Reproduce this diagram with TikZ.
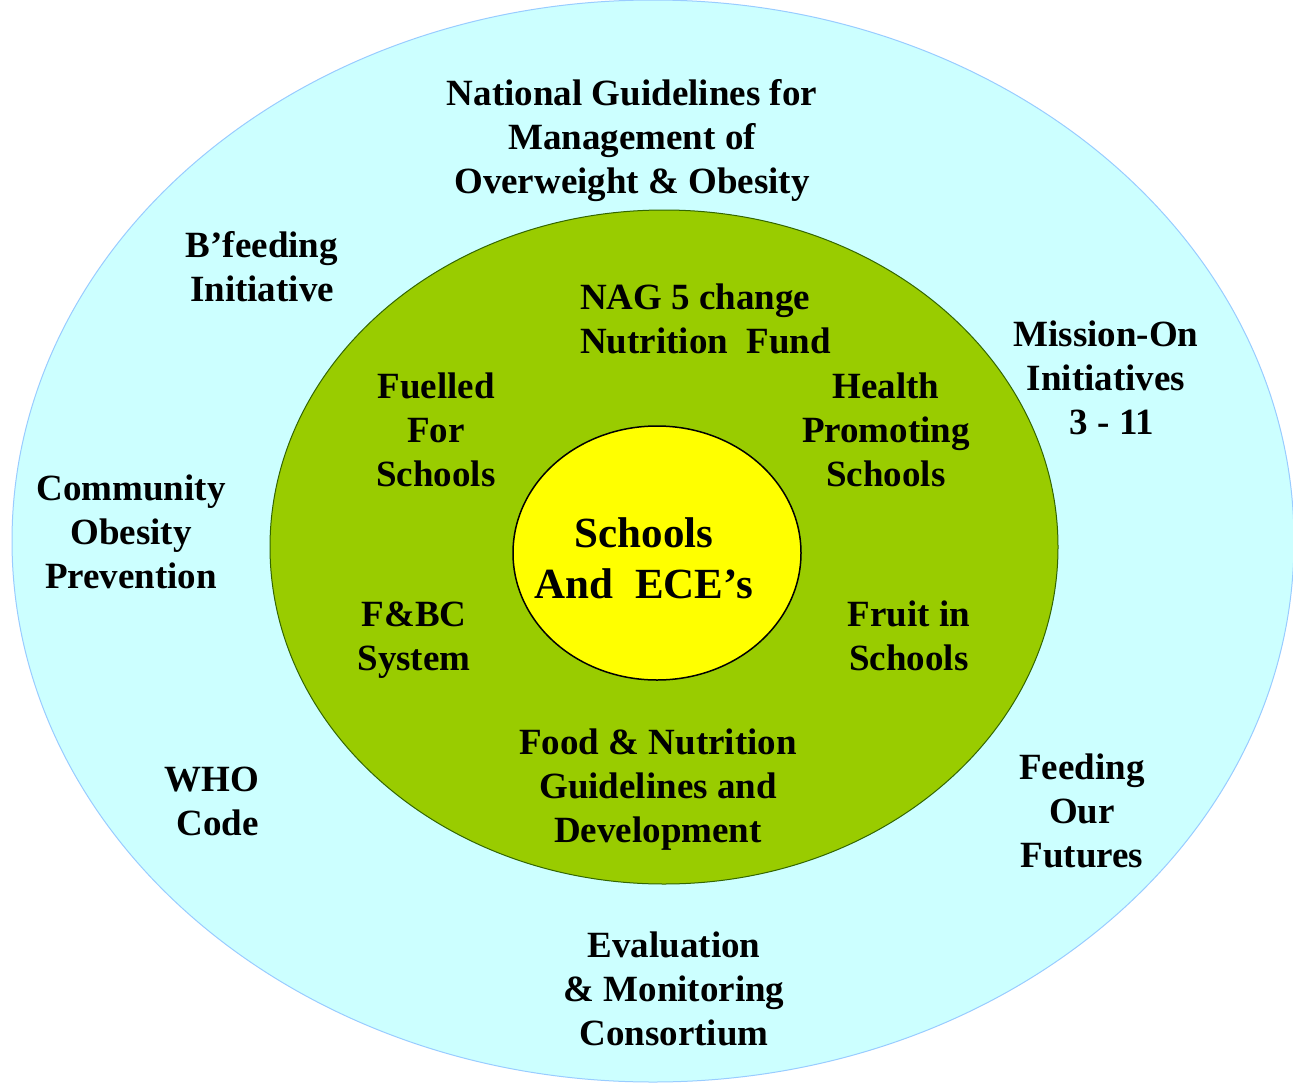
\documentclass[tikz,border=0pt]{standalone}
\usepackage{fontspec}
\setmainfont{Liberation Serif}
\definecolor{outerfill}{HTML}{CCFFFF}
\definecolor{outerline}{HTML}{99CCFF}
\definecolor{midfill}{HTML}{99CC00}
\definecolor{midline}{HTML}{336600}
\definecolor{corefill}{HTML}{FFFF00}
\begin{document}
\begin{tikzpicture}[x=1pt,y=-1pt,
  lbl/.style={align=center,inner sep=0pt,font=\fontsize{37}{44}\selectfont\bfseries},
  lbll/.style={align=left,inner sep=0pt,font=\fontsize{37}{44}\selectfont\bfseries},
  lblr/.style={align=right,inner sep=0pt,font=\fontsize{37}{44}\selectfont\bfseries},
  corelbl/.style={align=center,inner sep=0pt,font=\fontsize{43}{51}\selectfont\bfseries}]
\useasboundingbox (0,0) rectangle (1293,1084);
\fill[white] (0,0) rectangle (1293,1084);
\draw[fill=outerfill,draw=outerline,line width=1pt] (653,541) ellipse [x radius=641, y radius=541];
\draw[fill=midfill,draw=midline,line width=1pt] (664,547) ellipse [x radius=394, y radius=337];
\draw[fill=corefill,draw=black,line width=1.5pt] (657,553) ellipse [x radius=144, y radius=127];

\node[lbl] (ng) at (632,141) {National Guidelines for\\Management of\hspace*{-12pt}\\Overweight \& Obesity};
\node[lbl] (bf) at (262,267) {B’feeding\\Initiative};
\node[lbl] (cop) at (131,532) {Community\\Obesity\\Prevention};
\node[lblr,anchor=east] (who) at (259,801) {WHO\\Code};
\node[lbl] (emc) at (674,989) {Evaluation\\\& Monitoring\\Consortium};
\node[lbl] (fof) at (1082,811) {Feeding\\Our\\Futures};
\node[lbl] (mo) at (1106,378) {Mission-On\\Initiatives\\3 - 11\hspace*{-12pt}};

\node[lbll,anchor=west] (nag) at (580,319) {NAG 5 change\\Nutrition\ \ Fund};
\node[lbl] (ffs) at (436,430) {Fuelled\\For\\Schools};
\node[lbl] (hps) at (886,430) {Health\\Promoting\\Schools};
\node[lbl] (fbc) at (414,640) {F\&BC\\System};
\node[lbl] (fis) at (909,636) {Fruit in\\Schools};
\node[lbl] (fng) at (658,790) {Food \& Nutrition\\Guidelines and\\Development};

\node[corelbl] (core) at (644,558) {Schools\\And\ \ ECE’s};
\end{tikzpicture}
\end{document}
